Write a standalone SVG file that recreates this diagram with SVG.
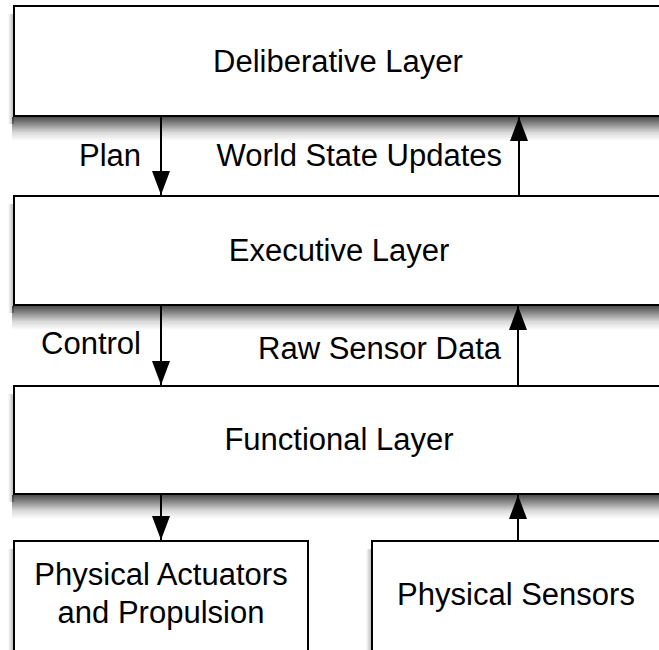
<svg xmlns="http://www.w3.org/2000/svg" width="659" height="650" viewBox="0 0 659 650">
<defs>
<linearGradient id="gb" x1="0" y1="0" x2="0" y2="1">
<stop offset="0" stop-color="#000" stop-opacity="0.7"/>
<stop offset="0.3" stop-color="#000" stop-opacity="0.45"/>
<stop offset="0.65" stop-color="#000" stop-opacity="0.15"/>
<stop offset="1" stop-color="#000" stop-opacity="0"/>
</linearGradient>
<linearGradient id="gl" x1="1" y1="0" x2="0" y2="0">
<stop offset="0" stop-color="#000" stop-opacity="0.3"/>
<stop offset="1" stop-color="#000" stop-opacity="0"/>
</linearGradient>
<marker id="ah" markerWidth="24" markerHeight="18" refX="24" refY="9" orient="auto" markerUnits="userSpaceOnUse" viewBox="0 0 24 18">
<path d="M0,0 L24,9 L0,18 Z" fill="#000"/>
</marker>
<style>
.box{fill:#fff;stroke:#000;stroke-width:2}
.sb{fill:url(#gb)}
.sl{fill:url(#gl)}
.t{font-family:"Liberation Sans",Arial,Helvetica,sans-serif;font-size:31px;fill:#000}
.c{text-anchor:middle}
.e{text-anchor:end}
.ln{stroke:#000;stroke-width:2;fill:none;marker-end:url(#ah)}
</style>
</defs>
<g id="deliberative">
<rect class="sl" x="8" y="14" width="6" height="110"/>
<rect class="sb" x="12" y="117" width="652" height="24"/>
<rect class="box" x="14" y="6" width="650" height="110"/>
<text class="t c" x="338" y="72">Deliberative Layer</text>
</g>
<g id="executive">
<rect class="sl" x="8" y="204" width="6" height="109"/>
<rect class="sb" x="12" y="306" width="652" height="24"/>
<rect class="box" x="14" y="196" width="650" height="109"/>
<text class="t c" x="339" y="261">Executive Layer</text>
</g>
<g id="functional">
<rect class="sl" x="8" y="394" width="6" height="108"/>
<rect class="sb" x="12" y="495" width="652" height="24"/>
<rect class="box" x="14" y="386" width="650" height="108"/>
<text class="t c" x="339" y="450">Functional Layer</text>
</g>
<g id="actuators">
<rect class="sl" x="8" y="549" width="6" height="110"/>
<rect class="box" x="14" y="541" width="294" height="130"/>
<text class="t c" x="161" y="585">Physical Actuators</text>
<text class="t c" x="161" y="623">and Propulsion</text>
</g>
<g id="sensors">
<rect class="sl" x="366" y="549" width="6" height="110"/>
<rect class="box" x="372" y="541" width="300" height="130"/>
<text class="t c" x="516" y="605">Physical Sensors</text>
</g>
<g id="connectors">
<line class="ln" x1="161" y1="116" x2="161" y2="195"/>
<line class="ln" x1="519" y1="196" x2="519" y2="117"/>
<line class="ln" x1="161" y1="305" x2="161" y2="385"/>
<line class="ln" x1="518" y1="386" x2="518" y2="306"/>
<line class="ln" x1="161" y1="494" x2="161" y2="540"/>
<line class="ln" x1="518" y1="541" x2="518" y2="495"/>
<text class="t e" x="141" y="166">Plan</text>
<text class="t e" x="502" y="166">World State Updates</text>
<text class="t e" x="141" y="354">Control</text>
<text class="t e" x="501" y="359">Raw Sensor Data</text>
</g>
</svg>
